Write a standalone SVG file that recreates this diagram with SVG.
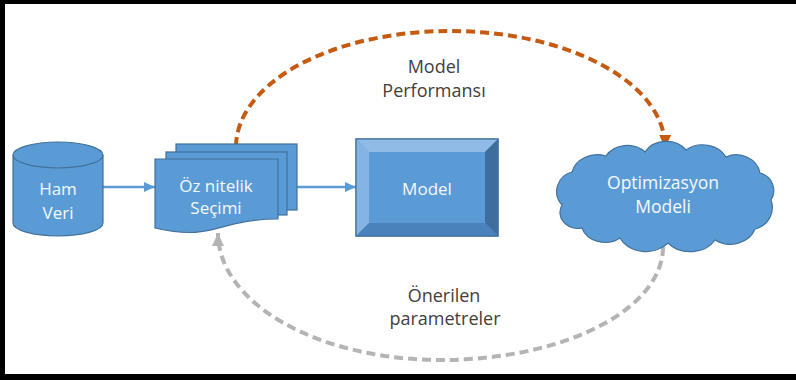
<svg xmlns="http://www.w3.org/2000/svg" width="796" height="380" viewBox="0 0 796 380">
<style>
.shape{fill:#5b9bd5;stroke:#41719c;stroke-width:1.2}
.in{font-family:"Open Sans","Noto Sans",sans-serif;font-size:17px;fill:#f4f9ff;text-anchor:middle}
.lbl{font-family:"Open Sans","Noto Sans",sans-serif;font-size:18px;fill:#404040;text-anchor:middle}
.blue{fill:none;stroke:#5b9bd5;stroke-width:2.5}
.orange{fill:none;stroke:#c55a11;stroke-width:4;stroke-dasharray:9 5}
.gray{fill:none;stroke:#b4b4b4;stroke-width:4;stroke-dasharray:9 5}
</style>
<defs>
<marker id="ab" markerUnits="userSpaceOnUse" markerWidth="12" markerHeight="12" refX="11" refY="6" orient="auto"><path d="M0,1 L11,6 L0,11 Z" fill="#5b9bd5"/></marker>
<marker id="ao" markerUnits="userSpaceOnUse" markerWidth="14" markerHeight="14" refX="13" refY="7" orient="auto"><path d="M0,1 L13,7 L0,13 Z" fill="#c55a11"/></marker>
<marker id="ag" markerUnits="userSpaceOnUse" markerWidth="14" markerHeight="14" refX="13" refY="7" orient="auto"><path d="M0,1 L13,7 L0,13 Z" fill="#b4b4b4"/></marker>
</defs>
<rect x="0" y="0" width="796" height="380" fill="#ffffff"/>
<g id="frame" fill="#000">
<rect x="0" y="0" width="796" height="4"/>
<rect x="0" y="0" width="5" height="380"/>
<rect x="0" y="374" width="796" height="6"/>
</g>
<g id="connectors">
<path class="blue" d="M103,187 L155,187" marker-end="url(#ab)"/>
<path class="blue" d="M297,187 L356,187" marker-end="url(#ab)"/>
<path class="orange" d="M236,146 A214,116 0 0 1 450,31 A215,116 0 0 1 665,148" marker-end="url(#ao)"/>
<path class="gray" d="M663,247 A222,113 0 0 1 441,360 A223,127 0 0 1 218,233" marker-end="url(#ag)"/>
</g>
<g id="hamveri">
<path class="shape" d="M13,155 L13,223 A45,13 0 0 0 103,223 L103,155"/>
<ellipse class="shape" cx="58" cy="155" rx="45" ry="13"/>
<text class="in" x="58" y="195">Ham</text>
<text class="in" x="58" y="219">Veri</text>
</g>
<g id="ozsecimi">
<rect class="shape" x="176" y="144" width="121" height="66"/>
<rect class="shape" x="166" y="152" width="121" height="63"/>
<path class="shape" d="M155,159 L278,159 L278,219 C216,219 216,242 155,228 Z"/>
<text class="in" x="216" y="192">Öz nitelik</text>
<text class="in" x="216" y="214">Seçimi</text>
</g>
<g id="model">
<rect x="356" y="139" width="142" height="97" fill="#5b9bd5" stroke="#41719c" stroke-width="1.2"/>
<path d="M356,139 L498,139 L485,152 L369,152 Z" fill="#8fbbe6"/>
<path d="M356,139 L369,152 L369,223 L356,236 Z" fill="#86b4e2"/>
<path d="M498,139 L498,236 L485,223 L485,152 Z" fill="#3f6e9c"/>
<path d="M356,236 L369,223 L485,223 L498,236 Z" fill="#4a82bb"/>
<rect x="356" y="139" width="142" height="97" fill="none" stroke="#41719c" stroke-width="1.2"/>
<text class="in" x="427" y="195">Model</text>
</g>
<g id="optimizasyon">
<path class="shape" d="M562,205 A20,20 0 0 1 572,172 A26,22 0 0 1 606,156 A24,20 0 0 1 645,152 A24,20 0 0 1 686,150 A26,22 0 0 1 726,157 A24,22 0 0 1 760,173 A18,18 0 0 1 771,200 A22,22 0 0 1 755,229 A26,22 0 0 1 715,240 A28,22 0 0 1 668,243 A28,22 0 0 1 620,238 A24,20 0 0 1 582,228 A18,16 0 0 1 562,205 Z"/>
<text class="in" x="663" y="189" style="font-size:17.5px">Optimizasyon</text>
<text class="in" x="663" y="213" style="font-size:17.5px">Modeli</text>
</g>
<g id="labels">
<text class="lbl" x="434" y="73">Model</text>
<text class="lbl" x="434" y="97">Performansı</text>
<text class="lbl" x="444" y="302">Önerilen</text>
<text class="lbl" x="445" y="325">parametreler</text>
</g>
</svg>
